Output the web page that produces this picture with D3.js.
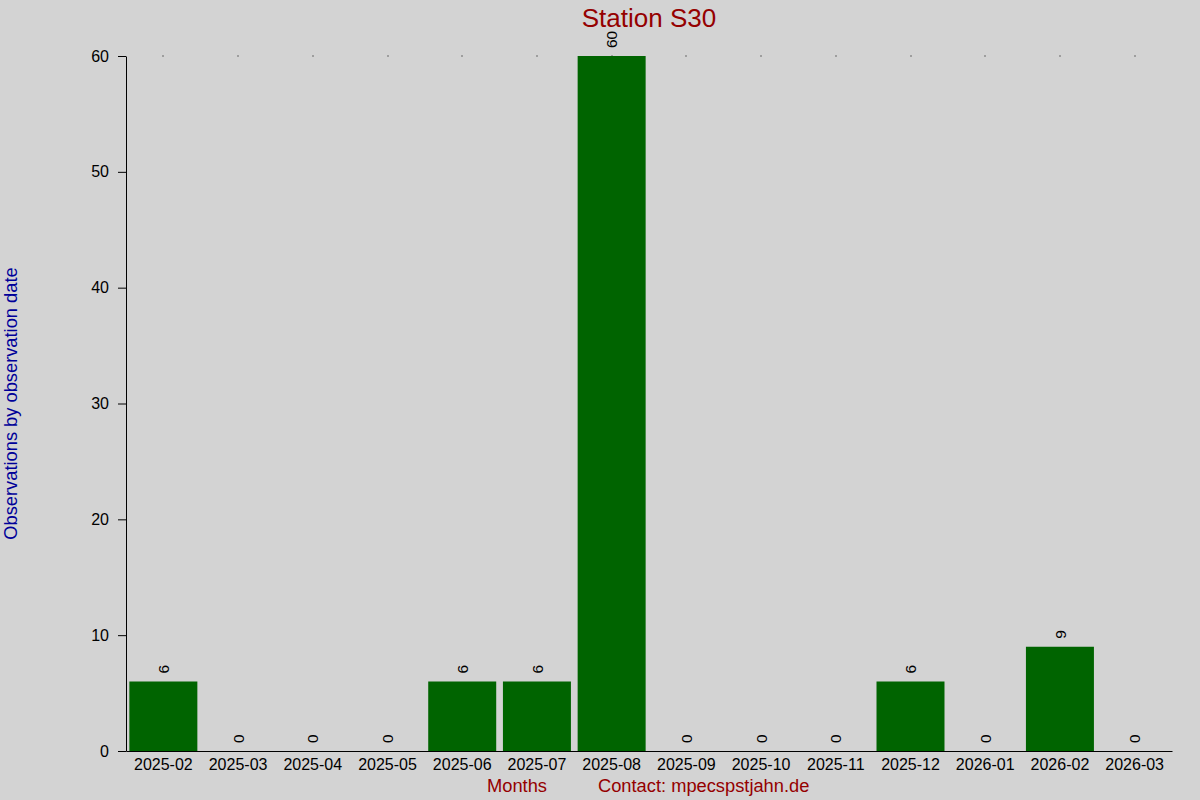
<!DOCTYPE html>
<html>
<head>
<meta charset="utf-8">
<script src="https://cdn.jsdelivr.net/npm/d3@7"></script>
<style>
  html, body { margin: 0; padding: 0; background: #d3d3d3; }
  svg { display: block; font-family: "Liberation Sans", Arial, sans-serif; }
</style>
</head>
<body>
<svg id="chart" width="1200" height="800"></svg>
<script>
// chart data
const months = ["2025-02", "2025-03", "2025-04", "2025-05", "2025-06", "2025-07", "2025-08",
                "2025-09", "2025-10", "2025-11", "2025-12", "2026-01", "2026-02", "2026-03"];
const counts = [6, 0, 0, 0, 6, 6, 60, 0, 0, 0, 6, 0, 9, 0];
const yTicks = [0, 10, 20, 30, 40, 50, 60];

const title = "Station S30";
const yTitle = "Observations by observation date";
const xTitle = "Months";
const contact = "Contact: mpecspstjahn.de";

const width = 1200, height = 800;
const margin = { top: 56, right: 28, bottom: 49, left: 126 };

const svg = d3.select("#chart");

svg.append("rect")
  .attr("width", width)
  .attr("height", height)
  .attr("fill", "#d3d3d3");

// x axis (band)
const x = d3.scaleBand()
  .domain(months)
  .range([margin.left, width - margin.right])
  .paddingInner(0.09)
  .paddingOuter(0.045);

// y axis
const y = d3.scaleLinear()
  .domain([0, 60])
  .range([height - margin.bottom, margin.top]);

// small dots along the top (top axis ticks)
svg.append("g")
  .selectAll("rect")
  .data(months)
  .enter()
  .append("rect")
  .attr("x", d => Math.round(x(d) + x.bandwidth() / 2) - 0.5)
  .attr("y", Math.round(y(60)) - 0.5)
  .attr("width", 1)
  .attr("height", 1)
  .attr("fill", "#000");

// bars
svg.append("g")
  .selectAll("rect")
  .data(counts)
  .enter()
  .append("rect")
  .attr("x", (d, i) => x(months[i]))
  .attr("y", d => y(d))
  .attr("width", x.bandwidth())
  .attr("height", d => y(0) - y(d))
  .attr("fill", "#006400");

// value labels, rotated
svg.append("g")
  .selectAll("text")
  .data(counts)
  .enter()
  .append("text")
  .attr("transform", (d, i) =>
    "translate(" + (x(months[i]) + x.bandwidth() / 2) + "," + (y(d) - 8) + ")rotate(-90)")
  .attr("dy", "0.36em")
  .attr("text-anchor", "start")
  .attr("font-size", 15.5)
  .attr("fill", "#000")
  .text(d => d);

// y axis
svg.append("g")
  .attr("transform", `translate(${margin.left},0)`)
  .call(d3.axisLeft(y).tickValues(yTicks).tickSize(8).tickPadding(9).tickSizeOuter(0))
  .call(g => g.select(".domain").attr("stroke", "#000"))
  .call(g => g.selectAll("text").attr("font-size", 16).attr("fill", "#000").attr("font-family", null));

// x axis
svg.append("g")
  .attr("transform", `translate(0,${y(0)})`)
  .call(d3.axisBottom(x).tickSize(0).tickPadding(8).tickSizeOuter(0))
  .call(g => g.select(".domain").attr("stroke", "#000"))
  .call(g => g.selectAll("text").attr("font-size", 16).attr("fill", "#000").attr("font-family", null));

// title
svg.append("text")
  .attr("x", 649)
  .attr("y", 27)
  .attr("text-anchor", "middle")
  .attr("font-size", 26)
  .attr("fill", "#950000")
  .text(title);

// y-axis title
svg.append("text")
  .attr("transform", "translate(17," + ((margin.top + height - margin.bottom) / 2) + ")rotate(-90)")
  .attr("text-anchor", "middle")
  .attr("font-size", 18.3)
  .attr("fill", "#000099")
  .text(yTitle);

// x-axis title and contact
svg.append("text")
  .attr("x", 517)
  .attr("y", 792)
  .attr("text-anchor", "middle")
  .attr("font-size", 18.3)
  .attr("fill", "#950000")
  .text(xTitle);

svg.append("text")
  .attr("x", 598)
  .attr("y", 792)
  .attr("text-anchor", "start")
  .attr("font-size", 18.3)
  .attr("fill", "#950000")
  .text(contact);
</script>
</body>
</html>
